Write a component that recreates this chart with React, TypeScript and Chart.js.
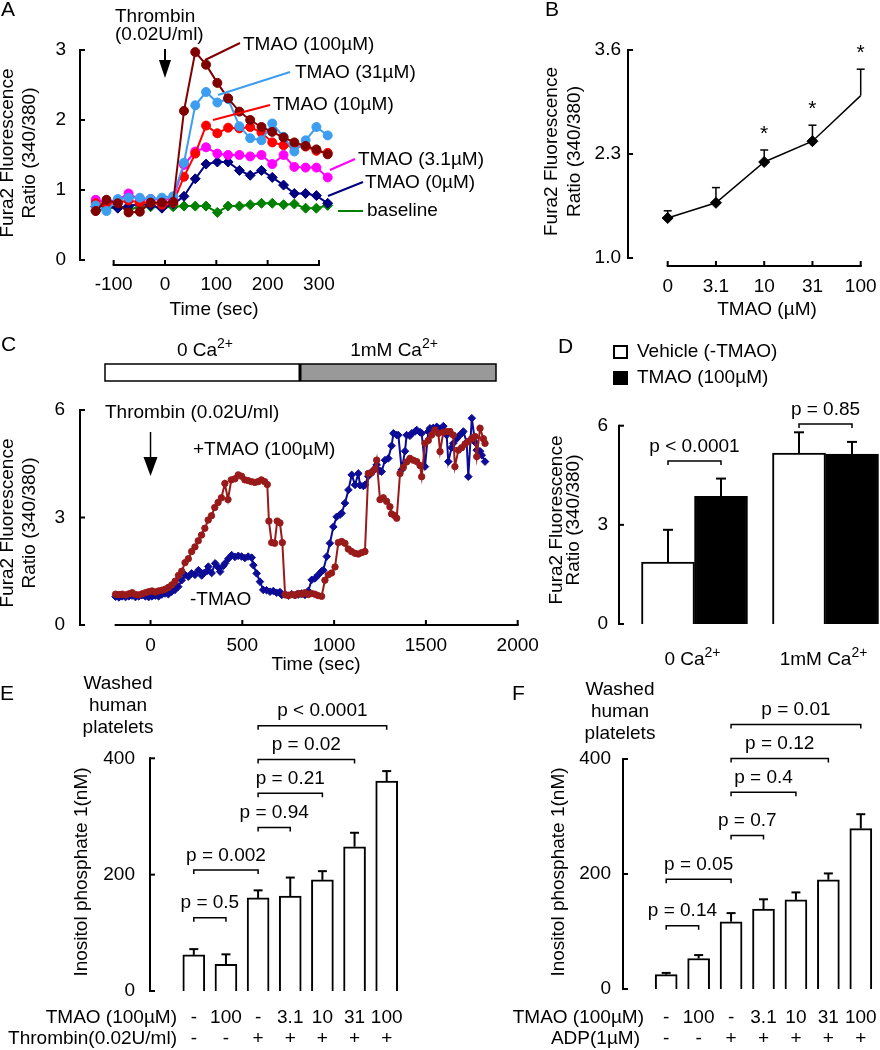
import React, { useEffect, useRef } from "react";
import { Chart, registerables } from "chart.js";

Chart.register(...registerables);

const FAMILY = "'Liberation Sans', Arial, Helvetica, sans-serif";

/* ======================= DATA ======================= */
// Panel A – Fura2 ratio time courses
const timeA = [-135, -114, -92, -71, -49, -28, -6, 16, 37, 59, 80, 102, 123, 145, 166, 188, 209, 231, 252, 274, 295, 317];
const tmao100A = [0.70, 0.86, 0.81, 0.68, 0.69, 0.82, 0.82, 0.83, 2.13, 2.97, 2.79, 2.53, 2.31, 2.12, 2.00, 1.90, 1.83, 1.75, 1.68, 1.63, 1.58, 1.51];
const tmao31A = [0.78, 0.70, 0.87, 0.89, 0.89, 0.87, 0.89, 0.91, 1.39, 2.21, 2.40, 2.25, 2.30, 1.91, 1.74, 1.71, 1.95, 1.76, 1.55, 1.71, 1.90, 1.78];
const tmao10A = [0.81, 0.80, 0.82, 0.85, 0.82, 0.82, 0.79, 0.82, 1.19, 1.52, 1.92, 1.81, 1.89, 1.88, 1.90, 1.82, 1.68, 1.64, 1.62, 1.62, 1.56, 1.53];
const tmao3A = [0.86, 0.82, 0.86, 0.95, 0.86, 0.87, 0.86, 0.87, 1.36, 1.55, 1.61, 1.52, 1.50, 1.50, 1.48, 1.50, 1.37, 1.50, 1.33, 1.32, 1.32, 1.18];
const tmao0A = [0.76, 0.78, 0.74, 0.77, 0.80, 0.78, 0.74, 0.80, 0.91, 1.16, 1.37, 1.40, 1.40, 1.28, 1.21, 1.28, 1.18, 1.07, 0.95, 0.95, 0.92, 0.81];
const baselineA = [0.70, 0.74, 0.75, 0.73, 0.75, 0.76, 0.75, 0.76, 0.77, 0.77, 0.77, 0.68, 0.77, 0.77, 0.79, 0.81, 0.81, 0.79, 0.80, 0.74, 0.74, 0.78];
const yTicksA = [0, 1, 2, 3];
const xTicksA = [-100, 0, 100, 200, 300];

// Panel B – dose response
const concB = ["0", "3.1", "10", "31", "100"];
const meanB = [1.50, 1.69, 2.20, 2.46, 3.03];
const semB = [0.09, 0.19, 0.15, 0.20, 0.33];
const signifB = [false, false, true, true, true];
const yTicksB = [1.0, 2.3, 3.6];

// Panel C – long time course [time (s), ratio]
const plusTmaoC: [number, number][] = [
  [-190, 0.86], [-172, 0.85], [-154, 0.86], [-136, 0.84], [-118, 0.87], [-100, 0.90], [-82, 0.85], [-64, 0.84],
  [-46, 0.87], [-28, 0.90], [-10, 0.93], [8, 0.95], [26, 0.92], [44, 0.95], [62, 0.97], [80, 1.00], [98, 1.05],
  [116, 1.12], [134, 1.22], [152, 1.38], [170, 1.50], [188, 1.74], [206, 1.85], [224, 2.05], [242, 2.18], [260, 2.35],
  [278, 2.51], [296, 2.70], [314, 2.93], [332, 3.05], [350, 3.28], [368, 3.42], [386, 3.55], [405, 3.95], [422, 3.50],
  [440, 4.05], [460, 4.08], [478, 4.19], [496, 4.15], [514, 4.05], [532, 4.03], [550, 4.00], [568, 3.98], [586, 4.00],
  [604, 4.05], [622, 4.00], [636, 3.92], [645, 2.90], [660, 2.30], [676, 2.28], [690, 2.90], [705, 2.85], [718, 2.30],
  [733, 0.85], [751, 0.82], [769, 0.85], [787, 0.83], [805, 0.88], [823, 0.86], [841, 0.90], [859, 0.85], [877, 0.88],
  [895, 0.86], [913, 0.82], [932, 0.80], [950, 1.25], [968, 1.40], [986, 1.45], [1005, 1.62], [1023, 2.30], [1041, 2.33],
  [1059, 2.28], [1077, 2.12], [1095, 2.05], [1114, 2.00], [1132, 1.98], [1150, 2.02], [1168, 2.05], [1186, 4.23],
  [1204, 4.25], [1222, 4.35], [1232, 4.60], [1250, 3.50], [1268, 3.55], [1286, 3.45], [1304, 3.30], [1313, 3.10],
  [1331, 3.05], [1341, 2.98], [1359, 4.23], [1377, 4.40], [1395, 4.55], [1413, 4.65], [1431, 4.60], [1450, 4.56],
  [1468, 4.45], [1477, 4.14], [1495, 5.07], [1513, 5.15], [1531, 5.30], [1549, 5.44], [1568, 5.35], [1577, 4.84],
  [1595, 5.38], [1613, 5.40], [1631, 5.40], [1649, 5.30], [1658, 4.42], [1677, 4.88], [1695, 4.95], [1713, 5.05],
  [1731, 5.12], [1749, 5.20], [1767, 5.26], [1777, 4.70], [1795, 5.49], [1813, 5.20], [1822, 5.07],
];
const minusTmaoC: [number, number][] = [
  [-190, 0.79], [-172, 0.77], [-154, 0.80], [-136, 0.78], [-118, 0.80], [-100, 0.82], [-82, 0.78], [-64, 0.80],
  [-46, 0.83], [-28, 0.80], [-10, 0.78], [8, 0.80], [26, 0.82], [44, 0.80], [62, 0.85], [79, 0.88], [97, 0.86],
  [115, 0.93], [133, 0.98], [151, 1.07], [170, 1.25], [188, 1.40], [206, 1.35], [224, 1.44], [242, 1.40], [261, 1.53],
  [279, 1.38], [288, 1.44], [306, 1.50], [315, 1.63], [333, 1.45], [352, 1.72], [370, 1.60], [379, 1.49], [397, 1.65],
  [406, 1.72], [424, 1.85], [442, 1.95], [460, 1.90], [478, 1.93], [496, 1.91], [514, 1.87], [532, 1.91], [551, 1.88],
  [560, 1.67], [578, 1.44], [596, 1.21], [614, 0.98], [632, 0.97], [651, 0.93], [669, 0.95], [687, 0.90], [705, 0.92],
  [715, 0.84], [733, 0.85], [751, 0.82], [769, 0.86], [787, 0.83], [805, 0.85], [823, 0.88], [841, 0.84], [859, 0.95],
  [878, 1.26], [896, 1.30], [914, 1.40], [932, 1.50], [941, 1.53], [960, 1.91], [977, 2.28], [996, 2.74], [1014, 3.02],
  [1032, 3.08], [1041, 3.12], [1059, 3.40], [1078, 3.77], [1096, 4.19], [1114, 3.91], [1132, 4.23], [1141, 3.90],
  [1159, 3.88], [1168, 3.91], [1186, 4.15], [1205, 4.28], [1223, 4.35], [1232, 4.47], [1250, 4.30], [1259, 4.28],
  [1277, 4.60], [1295, 4.65], [1313, 5.00], [1323, 5.35], [1341, 5.30], [1350, 5.30], [1368, 4.33], [1386, 4.85],
  [1395, 5.30], [1413, 5.28], [1423, 5.35], [1441, 5.40], [1450, 5.44], [1468, 5.38], [1477, 5.35], [1495, 4.42],
  [1513, 5.40], [1522, 5.49], [1540, 5.50], [1559, 5.53], [1577, 5.48], [1595, 5.55], [1613, 5.30], [1622, 4.56],
  [1640, 4.95], [1649, 5.07], [1668, 5.20], [1677, 5.26], [1695, 5.35], [1704, 5.40], [1722, 5.10], [1731, 4.14],
  [1750, 5.77], [1768, 5.10], [1777, 4.88], [1795, 4.85], [1804, 4.74], [1822, 4.56],
];
const yTicksC = [0, 3, 6];
const xTicksC = [0, 500, 1000, 1500, 2000];

// Panel D – bars
const groupsD = ["0 Ca2+", "1mM Ca2+"];
const vehicleD = [1.87, 5.17];
const vehicleErrD = [0.98, 0.63];
const tmaoD = [3.86, 5.14];
const tmaoErrD = [0.54, 0.37];
const pValuesD = ["p < 0.0001", "p = 0.85"];
const pHeightsD = [4.93, 6.05];
const yTicksD = [0, 3, 6];

// Panel E – IP1, thrombin
const tmaoRowE = ["-", "100", "-", "3.1", "10", "31", "100"];
const thrombinRowE = ["-", "-", "+", "+", "+", "+", "+"];
const ip1E = [62, 46, 160, 163, 191, 248, 361];
const ip1ErrE = [10, 17, 13, 32, 15, 24, 17];
const bracketsE: [number, number, number, string][] = [
  [0, 1, 126, "p = 0.5"], [0, 2, 208, "p = 0.002"], [2, 3, 281, "p = 0.94"],
  [2, 4, 340, "p = 0.21"], [2, 5, 398, "p = 0.02"], [2, 6, 456, "p < 0.0001"],
];

// Panel F – IP1, ADP
const tmaoRowF = ["-", "100", "-", "3.1", "10", "31", "100"];
const adpRowF = ["-", "-", "+", "+", "+", "+", "+"];
const ip1F = [25, 53, 117, 139, 155, 190, 279];
const ip1ErrF = [3, 6, 15, 17, 13, 11, 25];
const bracketsF: [number, number, number, string][] = [
  [0, 1, 110, "p = 0.14"], [0, 2, 191, "p = 0.05"], [2, 3, 267, "p = 0.7"],
  [2, 4, 342, "p = 0.4"], [2, 5, 401, "p = 0.12"], [2, 6, 460, "p = 0.01"],
];
const yTicksIP = [0, 200, 400];

/* ======================= DRAW HELPERS ======================= */
function setFont(ctx: any, size: number, weight = "normal") {
  ctx.font = `${weight} ${size}px ${FAMILY}`;
}
function text(ctx: any, s: string, x: number, y: number, o: any = {}) {
  setFont(ctx, o.size ?? 19, o.weight ?? "normal");
  ctx.fillStyle = o.color ?? "#000";
  ctx.textAlign = o.align ?? "left";
  ctx.textBaseline = o.baseline ?? "middle";
  ctx.fillText(s, x, y);
}
function vtext(ctx: any, s: string, x: number, y: number, size = 19) {
  ctx.save();
  ctx.translate(x, y);
  ctx.rotate(-Math.PI / 2);
  text(ctx, s, 0, 0, { size, align: "center" });
  ctx.restore();
}
function seg(ctx: any, pts: number[], w = 2, color = "#000", cap = "butt") {
  ctx.beginPath();
  ctx.moveTo(pts[0], pts[1]);
  for (let i = 2; i < pts.length; i += 2) ctx.lineTo(pts[i], pts[i + 1]);
  ctx.lineWidth = w;
  ctx.strokeStyle = color;
  ctx.lineCap = cap;
  ctx.lineJoin = "miter";
  ctx.stroke();
}
function supLabel(ctx: any, label: string, cx: number, base: number, size = 19) {
  const main = label.replace("2+", "");
  const sup = label.endsWith("2+") ? "2+" : "";
  setFont(ctx, size);
  const w1 = ctx.measureText(main).width;
  setFont(ctx, 14);
  const w2 = ctx.measureText(sup).width;
  const x0 = cx - (w1 + w2) / 2;
  text(ctx, main, x0, base, { size, baseline: "alphabetic" });
  if (sup) text(ctx, sup, x0 + w1, base - 8, { size: 14, baseline: "alphabetic" });
}
function downArrow(ctx: any, x: number, y1: number, y2: number, hw: number, hh: number, lw = 2) {
  seg(ctx, [x, y1, x, y2 - hh + 1], lw);
  ctx.beginPath();
  ctx.moveTo(x - hw, y2 - hh);
  ctx.lineTo(x + hw, y2 - hh);
  ctx.lineTo(x, y2);
  ctx.closePath();
  ctx.fillStyle = "#000";
  ctx.fill();
}
function yAxis(ctx: any, Y: any, x: number, ticks: number[], labels: string[], labelRight: number, tl = 5) {
  seg(ctx, [x, Y(ticks[0]) + 1, x, Y(ticks[ticks.length - 1]) - 1], 2);
  ticks.forEach((t, i) => {
    const py = Y(t);
    seg(ctx, [x, py, x + tl, py], 2);
    text(ctx, labels[i], labelRight, py, { align: "right" });
  });
}
function xAxis(ctx: any, X: any, y: number, from: number, to: number, ticks: number[], labels: string[], labelY: number, tl = 5) {
  seg(ctx, [X(from) - 1, y, X(to) + 1, y], 2);
  ticks.forEach((t, i) => {
    const px = X(t);
    seg(ctx, [px, y, px, y - tl], 2);
    text(ctx, labels[i], px, labelY, { align: "center" });
  });
}
function errBar(ctx: any, x: number, y0: number, y1: number, cap = 9, w = 2) {
  seg(ctx, [x, y0, x, y1], w);
  seg(ctx, [x - cap / 2, y1, x + cap / 2, y1], w);
}
function bracket(ctx: any, x1: number, x2: number, y: number, label: string) {
  seg(ctx, [x1, y + 4, x1, y, x2, y, x2, y + 4], 1.5);
  text(ctx, label, (x1 + x2) / 2, y - 14.5, { align: "center" });
}
function pageMappers(chart: any, ox: number, oy: number) {
  const X = (v: number) => chart.scales.x.getPixelForValue(v) + ox;
  const Y = (v: number) => chart.scales.y.getPixelForValue(v) + oy;
  return { X, Y };
}

/* ======================= PANELS ======================= */
function Panel({ rect, area, build }: { rect: number[]; area: number[]; build: (ox: number, oy: number) => any }) {
  const ref = useRef<HTMLCanvasElement | null>(null);
  useEffect(() => {
    const [cx, cy, cw, ch] = rect;
    const [l, t, r, b] = area;
    const cfg = build(cx, cy);
    cfg.options = {
      responsive: false,
      maintainAspectRatio: false,
      animation: false,
      devicePixelRatio: 1,
      events: [],
      layout: { padding: { left: l - cx, top: t - cy, right: cx + cw - r, bottom: cy + ch - b } },
      ...cfg.options,
      plugins: { legend: { display: false }, tooltip: { enabled: false }, title: { display: false } },
    };
    const chart = new Chart(ref.current as HTMLCanvasElement, cfg);
    return () => chart.destroy();
  }, []);
  return (
    <canvas
      ref={ref}
      width={rect[2]}
      height={rect[3]}
      style={{ position: "absolute", left: rect[0], top: rect[1], width: rect[2], height: rect[3], display: "block" }}
    />
  );
}

function buildA(ox: number, oy: number) {
  const series = [
    { label: "TMAO (100µM)", v: tmao100A, c: "#800000", s: "circle" },
    { label: "TMAO (31µM)", v: tmao31A, c: "#3d9df0", s: "circle" },
    { label: "TMAO (10µM)", v: tmao10A, c: "#ff0000", s: "circle" },
    { label: "TMAO (3.1µM)", v: tmao3A, c: "#ff00ff", s: "circle" },
    { label: "TMAO (0µM)", v: tmao0A, c: "#000080", s: "rectRot" },
    { label: "baseline", v: baselineA, c: "#008000", s: "rectRot" },
  ];
  return {
    type: "line",
    data: {
      datasets: series.map((s) => ({
        label: s.label,
        data: timeA.map((t, i) => ({ x: t, y: s.v[i] })),
        borderColor: s.c,
        backgroundColor: s.c,
        pointBackgroundColor: s.c,
        pointBorderColor: s.c,
        pointStyle: s.s,
        pointRadius: s.s === "circle" ? 4.5 : 5,
        pointBorderWidth: 1,
        borderWidth: 2,
        tension: 0,
        clip: false,
      })),
    },
    options: {
      scales: {
        x: { type: "linear", min: -150, max: 340, display: false },
        y: { type: "linear", min: 0, max: 3, display: false },
      },
    },
    plugins: [
      {
        id: "decorA",
        afterDraw(chart: any) {
          const ctx = chart.ctx;
          ctx.save();
          ctx.translate(-ox, -oy);
          const { X, Y } = pageMappers(chart, ox, oy);
          text(ctx, "A", 1, 16, { size: 21, baseline: "alphabetic" });
          yAxis(ctx, Y, 80, yTicksA, yTicksA.map(String), 66);
          xAxis(ctx, X, 265, xTicksA[0], xTicksA[xTicksA.length - 1], xTicksA, xTicksA.map(String), 285);
          text(ctx, "Time (sec)", 214, 310, { align: "center" });
          vtext(ctx, "Fura2 Fluorescence", 8, 153);
          vtext(ctx, "Ratio (340/380)", 29.5, 153);
          text(ctx, "Thrombin", 115, 22, { baseline: "alphabetic" });
          text(ctx, "(0.02U/ml)", 115, 40, { baseline: "alphabetic" });
          downArrow(ctx, X(0), 49, 78, 6, 18);
          const leaders: [number[], string, string, number, number][] = [
            [[205, 60, 240, 43], "#800000", "TMAO (100µM)", 243, 45],
            [[218, 95, 290, 72], "#3d9df0", "TMAO (31µM)", 295, 73],
            [[213, 120, 270, 105], "#ff0000", "TMAO (10µM)", 273, 105],
            [[330, 170, 355, 159], "#ff00ff", "TMAO (3.1µM)", 358, 160],
            [[328, 196, 363, 182], "#000080", "TMAO (0µM)", 365, 183],
            [[338, 211, 363, 211], "#008000", "baseline", 367, 211],
          ];
          leaders.forEach(([pts, c, s, tx, ty]) => {
            seg(ctx, pts, 2, c);
            text(ctx, s, tx, ty);
          });
          ctx.restore();
        },
      },
    ],
  };
}

function buildB(ox: number, oy: number) {
  return {
    type: "line",
    data: {
      labels: concB,
      datasets: [
        {
          label: "Fura2 ratio",
          data: meanB,
          borderColor: "#000",
          backgroundColor: "#000",
          pointStyle: "rectRot",
          pointRadius: meanB.map((_, i) => (i === meanB.length - 1 ? 0 : 5.5)),
          pointBorderWidth: 1,
          borderWidth: 1.5,
          tension: 0,
          clip: false,
        },
      ],
    },
    options: {
      scales: {
        x: { type: "category", offset: false, display: false },
        y: { type: "linear", min: 1.0, max: 3.6, display: false },
      },
    },
    plugins: [
      {
        id: "decorB",
        afterDraw(chart: any) {
          const ctx = chart.ctx;
          ctx.save();
          ctx.translate(-ox, -oy);
          const { X, Y } = pageMappers(chart, ox, oy);
          text(ctx, "B", 545, 16, { size: 21, baseline: "alphabetic" });
          yAxis(ctx, Y, 628, yTicksB, yTicksB.map((v) => v.toFixed(1)), 621);
          const idx = concB.map((_, i) => i);
          xAxis(ctx, X, 266, 0, concB.length - 1, idx, concB, 287);
          text(ctx, "TMAO (µM)", 767, 310, { align: "center" });
          vtext(ctx, "Fura2 Fluorescence", 551.5, 151.5);
          vtext(ctx, "Ratio (340/380)", 575, 151.5);
          meanB.forEach((m, i) => {
            const top = Y(m + semB[i]);
            errBar(ctx, X(i), Y(m), top, 8, 1.5);
            if (signifB[i]) text(ctx, "*", X(i), top - 21 + 11, { size: 21, align: "center", baseline: "alphabetic" });
          });
          ctx.restore();
        },
      },
    ],
  };
}

function buildC(ox: number, oy: number) {
  return {
    type: "line",
    data: {
      datasets: [
        {
          label: "+TMAO (100µM)",
          data: plusTmaoC.map(([x, y]) => ({ x, y })),
          borderColor: "#991a1a",
          backgroundColor: "#991a1a",
          pointStyle: "circle",
          pointRadius: 3.2,
          pointBorderWidth: 1,
          borderWidth: 2,
          tension: 0,
          clip: false,
        },
        {
          label: "-TMAO",
          data: minusTmaoC.map(([x, y]) => ({ x, y })),
          borderColor: "#0c0c96",
          backgroundColor: "#0c0c96",
          pointStyle: "rectRot",
          pointRadius: 3.8,
          pointBorderWidth: 1,
          borderWidth: 2,
          tension: 0,
          clip: false,
        },
      ],
    },
    options: {
      scales: {
        x: { type: "linear", min: -200, max: 2000, display: false },
        y: { type: "linear", min: 0, max: 6, display: false },
      },
    },
    plugins: [
      {
        id: "decorC",
        afterDraw(chart: any) {
          const ctx = chart.ctx;
          ctx.save();
          ctx.translate(-ox, -oy);
          const { X, Y } = pageMappers(chart, ox, oy);
          text(ctx, "C", 1, 351, { size: 21, baseline: "alphabetic" });
          // calcium condition bar
          ctx.fillStyle = "#ffffff";
          ctx.fillRect(105, 364, 195, 17);
          ctx.fillStyle = "#999999";
          ctx.fillRect(300, 364, 196, 17);
          ctx.lineWidth = 1.5;
          ctx.strokeStyle = "#000";
          ctx.strokeRect(105, 364, 391, 17);
          seg(ctx, [300, 364, 300, 381], 3);
          supLabel(ctx, "0 Ca2+", 205, 356);
          supLabel(ctx, "1mM Ca2+", 394, 356);
          yAxis(ctx, Y, 80, yTicksC, yTicksC.map(String), 65);
          xAxis(ctx, X, 625, -190, 2000, xTicksC, xTicksC.map(String), 646);
          text(ctx, "Time (sec)", 316, 665, { align: "center" });
          vtext(ctx, "Fura2 Fluorescence", 8, 523);
          vtext(ctx, "Ratio (340/380)", 30, 523);
          text(ctx, "Thrombin (0.02U/ml)", 105, 413);
          downArrow(ctx, X(0), 432, 476, 7, 19, 1.5);
          text(ctx, "+TMAO (100µM)", 193, 450);
          text(ctx, "-TMAO", 190, 600);
          ctx.restore();
        },
      },
    ],
  };
}

function buildD(ox: number, oy: number) {
  return {
    type: "bar",
    data: {
      labels: groupsD,
      datasets: [
        { label: "Vehicle (-TMAO)", data: vehicleD, backgroundColor: "#ffffff", borderColor: "#000", borderWidth: 2, barThickness: 53, clip: false },
        { label: "TMAO (100µM)", data: tmaoD, backgroundColor: "#000000", borderColor: "#000", borderWidth: 2, barThickness: 53, clip: false },
      ],
    },
    options: {
      scales: {
        x: { type: "category", offset: false, display: false },
        y: { type: "linear", min: 0, max: 6, display: false },
      },
    },
    plugins: [
      {
        id: "decorD",
        afterDraw(chart: any) {
          const ctx = chart.ctx;
          ctx.save();
          ctx.translate(-ox, -oy);
          const { X, Y } = pageMappers(chart, ox, oy);
          text(ctx, "D", 558, 353, { size: 21, baseline: "alphabetic" });
          // legend
          ctx.fillStyle = "#fff";
          ctx.fillRect(614, 346, 13, 12);
          ctx.lineWidth = 2;
          ctx.strokeStyle = "#000";
          ctx.strokeRect(614, 346, 13, 12);
          ctx.fillStyle = "#000";
          ctx.fillRect(613, 371, 15, 14);
          text(ctx, chart.data.datasets[0].label, 637, 352);
          text(ctx, chart.data.datasets[1].label, 637, 378);
          yAxis(ctx, Y, 619, yTicksD, yTicksD.map(String), 608);
          vtext(ctx, "Fura2 Fluorescence", 556.7, 520);
          vtext(ctx, "Ratio (340/380)", 573.3, 520);
          const m0 = chart.getDatasetMeta(0).data;
          const m1 = chart.getDatasetMeta(1).data;
          vehicleD.forEach((v, j) => errBar(ctx, m0[j].x + ox, Y(v), Y(v + vehicleErrD[j]), 10, 2));
          tmaoD.forEach((v, j) => errBar(ctx, m1[j].x + ox, Y(v), Y(v + tmaoErrD[j]), 10, 2));
          pValuesD.forEach((p, j) => bracket(ctx, m0[j].x + ox, m1[j].x + ox, Y(pHeightsD[j]), p));
          groupsD.forEach((g, j) => supLabel(ctx, g, X(j) - 2, 665));
          ctx.restore();
        },
      },
    ],
  };
}

function makeIP(opts: any) {
  return (ox: number, oy: number) => ({
    type: "bar",
    data: {
      labels: opts.rows[0].values.map((_: string, i: number) => String(i)),
      datasets: [
        { label: "Inositol phosphate 1", data: opts.values, backgroundColor: "#ffffff", borderColor: "#000", borderWidth: 2, barThickness: 22, clip: false },
      ],
    },
    options: {
      scales: {
        x: { type: "category", offset: false, display: false },
        y: { type: "linear", min: 0, max: 400, display: false },
      },
    },
    plugins: [
      {
        id: "decorIP",
        afterDraw(chart: any) {
          const ctx = chart.ctx;
          ctx.save();
          ctx.translate(-ox, -oy);
          const { X, Y } = pageMappers(chart, ox, oy);
          text(ctx, opts.letter, opts.letterX, 700, { size: 21, baseline: "alphabetic" });
          ["Washed", "human", "platelets"].forEach((s, i) => text(ctx, s, opts.washedX, opts.washedY + i * 22, { align: "center" }));
          yAxis(ctx, Y, opts.axisX, yTicksIP, yTicksIP.map(String), opts.labelRight);
          vtext(ctx, "Inositol phosphate 1(nM)", opts.titleX, 872);
          opts.values.forEach((v: number, i: number) => errBar(ctx, X(i), Y(v), Y(v + opts.errs[i]), 9, 2));
          opts.brackets.forEach(([a, b, h, s]: any) => bracket(ctx, X(a), X(b), Y(h), s));
          opts.rows.forEach((row: any) => {
            text(ctx, row.name, row.right, row.y, { align: "right" });
            row.values.forEach((s: string, i: number) => text(ctx, s, X(i), row.y, { align: "center" }));
          });
          ctx.restore();
        },
      },
    ],
  });
}

const buildE = makeIP({
  letter: "E",
  letterX: 0,
  washedX: 118,
  washedY: 684,
  axisX: 150,
  labelRight: 135,
  titleX: 81.7,
  values: ip1E,
  errs: ip1ErrE,
  brackets: bracketsE,
  rows: [
    { name: "TMAO (100µM)", values: tmaoRowE, y: 1018, right: 177 },
    { name: "Thrombin(0.02U/ml)", values: thrombinRowE, y: 1039, right: 177 },
  ],
});

const buildF = makeIP({
  letter: "F",
  letterX: 512,
  washedX: 620,
  washedY: 690,
  axisX: 623,
  labelRight: 611,
  titleX: 558.3,
  values: ip1F,
  errs: ip1ErrF,
  brackets: bracketsF,
  rows: [
    { name: "TMAO (100µM)", values: tmaoRowF, y: 1018, right: 644 },
    { name: "ADP(1µM)", values: adpRowF, y: 1039, right: 640 },
  ],
});

export default function App() {
  return (
    <div style={{ position: "absolute", left: 0, top: 0, width: 880, height: 1050, background: "#ffffff", overflow: "hidden" }}>
      <Panel rect={[0, 0, 540, 320]} area={[88, 50, 339.5, 260]} build={buildA} />
      <Panel rect={[540, 0, 340, 320]} area={[667.7, 50, 860.7, 258]} build={buildB} />
      <Panel rect={[0, 320, 540, 356]} area={[113.8, 410, 517.7, 625]} build={buildC} />
      <Panel rect={[540, 320, 340, 356]} area={[694.5, 425.7, 825.5, 624]} build={buildD} />
      <Panel rect={[0, 676, 440, 374]} area={[193.8, 758.3, 386.7, 991]} build={buildE} />
      <Panel rect={[440, 676, 440, 374]} area={[666.2, 759, 860.8, 989]} build={buildF} />
    </div>
  );
}
